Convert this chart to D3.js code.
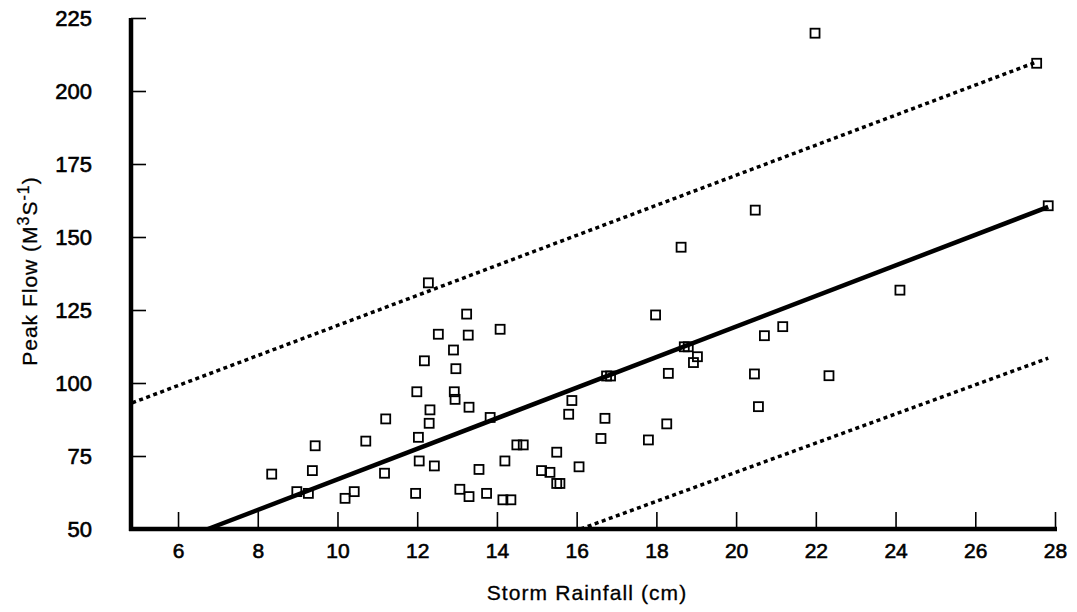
<!DOCTYPE html>
<html>
<head>
<meta charset="utf-8">
<script src="https://cdn.jsdelivr.net/npm/d3@7"></script>
<style>
  body { margin: 0; background: #fff; }
  text { font-family: "Liberation Sans", Arial, sans-serif; fill: #000; }
</style>
</head>
<body>
<script>
// storm rainfall (cm) vs peak flow (m3/s)
var rainfall = [8.35, 8.98, 9.27, 9.37, 9.44, 10.19, 10.42, 10.71, 11.18, 11.21,
	11.96, 11.99, 12.03, 12.05, 12.18, 12.28, 12.30, 12.32, 12.43, 12.53,
	12.91, 12.93, 12.95, 12.97, 13.07, 13.24, 13.28, 13.30, 13.30, 13.55,
	13.74, 13.83, 14.08, 14.15, 14.35, 14.20, 14.50, 14.66, 15.12, 15.33,
	15.50, 15.50, 15.58, 15.80, 15.88, 16.06, 16.61, 16.71, 16.75, 16.85,
	17.80, 17.98, 18.26, 18.30, 18.62, 18.70, 18.80, 18.93, 19.03, 20.46,
	20.48, 20.56, 20.71, 21.17, 21.98, 22.33, 24.11, 27.54, 27.83];
var peakFlow = [68.8, 62.8, 62.2, 70.0, 78.5, 60.5, 62.8, 80.1, 69.1, 87.7,
	62.2, 97.0, 81.4, 73.3, 107.6, 134.3, 86.2, 90.8, 71.6, 116.7,
	111.3, 97.0, 94.4, 104.9, 63.6, 123.6, 116.4, 91.7, 61.1, 70.4,
	62.2, 88.2, 118.4, 60.0, 60.0, 73.3, 78.8, 78.8, 70.0, 69.4,
	76.3, 65.6, 65.6, 89.3, 94.0, 71.3, 81.0, 87.9, 102.4, 102.4,
	80.5, 123.3, 86.0, 103.3, 146.5, 112.4, 112.4, 107.0, 109.0, 103.1,
	159.2, 91.9, 116.2, 119.3, 219.8, 102.5, 131.8, 209.5, 160.7];

// fitted line and the two limit lines (end points)
var fitLine = [[6.75, 50], [27.83, 160.3]];
var upperLimit = [[4.85, 93.2], [27.55, 210]];
var lowerLimit = [[16.1, 50], [27.83, 108.5]];

var xTicks = [6, 8, 10, 12, 14, 16, 18, 20, 22, 24, 26, 28];
var yTicks = [50, 75, 100, 125, 150, 175, 200, 225];

var width = 1077, height = 612;

var x = d3.scaleLinear().domain([4.82, 28]).range([131, 1055]);
var y = d3.scaleLinear().domain([50, 225]).range([529, 18]);

var svg = d3.select('body').append('svg')
	.attr('width', width)
	.attr('height', height);

// axes
var xAxis = svg.append('g')
	.attr('transform', 'translate(0,' + y(50) + ')')
	.call(d3.axisBottom(x).tickValues(xTicks).tickSizeInner(-17).tickSizeOuter(0).tickPadding(14));
var yAxis = svg.append('g')
	.attr('transform', 'translate(' + x(4.82) + ',0)')
	.call(d3.axisLeft(y).tickValues(yTicks).tickSizeInner(-15).tickSizeOuter(0).tickPadding(39));

[xAxis, yAxis].forEach(function(g) {
	g.select('.domain').remove();
	g.selectAll('.tick line').attr('stroke', '#000').attr('stroke-width', 1.6);
	g.selectAll('.tick text').attr('stroke', '#000').attr('stroke-width', 0.6);
});
xAxis.selectAll('.tick text').style('font-size', '21px').attr('dy', '0.71em');
yAxis.selectAll('.tick text').style('font-size', '22px');

svg.append('line')
	.attr('x1', x(4.82)).attr('x2', x(4.82))
	.attr('y1', y(225)).attr('y2', y(50) + 2)
	.attr('stroke', '#000').attr('stroke-width', 4.5);
svg.append('line')
	.attr('x1', x(4.82) - 2).attr('x2', x(28) + 2)
	.attr('y1', y(50)).attr('y2', y(50))
	.attr('stroke', '#000').attr('stroke-width', 4.5);

// lines
var line = d3.line()
	.x(function(d) { return x(d[0]); })
	.y(function(d) { return y(d[1]); });

svg.append('path')
	.datum(fitLine)
	.attr('d', line)
	.attr('fill', 'none')
	.attr('stroke', '#000')
	.attr('stroke-width', 4.5);

svg.selectAll('.limit')
	.data([upperLimit, lowerLimit])
	.enter().append('path')
	.attr('class', 'limit')
	.attr('d', line)
	.attr('fill', 'none')
	.attr('stroke', '#000')
	.attr('stroke-width', 3.5)
	.attr('stroke-dasharray', '4,3.5');

// points
svg.selectAll('.pt')
	.data(d3.range(rainfall.length))
	.enter().append('rect')
	.attr('class', 'pt')
	.attr('x', function(i) { return x(rainfall[i]) - 4.5; })
	.attr('y', function(i) { return y(peakFlow[i]) - 4.5; })
	.attr('width', 9)
	.attr('height', 9)
	.attr('fill', 'none')
	.attr('stroke', '#000')
	.attr('stroke-width', 1.8);

// titles
svg.append('text')
	.attr('x', 587)
	.attr('y', 600)
	.attr('text-anchor', 'middle')
	.style('font-size', '21px')
	.style('letter-spacing', '1.1px')
	.attr('stroke', '#000').attr('stroke-width', 0.3)
	.text('Storm Rainfall (cm)');

var yTitle = svg.append('text')
	.attr('transform', 'translate(37,271) rotate(-90)')
	.attr('text-anchor', 'middle')
	.style('font-size', '21px')
	.style('letter-spacing', '1px')
	.attr('stroke', '#000').attr('stroke-width', 0.3);
yTitle.append('tspan').text('Peak Flow (M');
yTitle.append('tspan').attr('dy', -8).style('font-size', '16px').text('3');
yTitle.append('tspan').attr('dy', 8).text('S');
yTitle.append('tspan').attr('dy', -8).style('font-size', '16px').text('-1');
yTitle.append('tspan').attr('dy', 8).text(')');
</script>
</body>
</html>
